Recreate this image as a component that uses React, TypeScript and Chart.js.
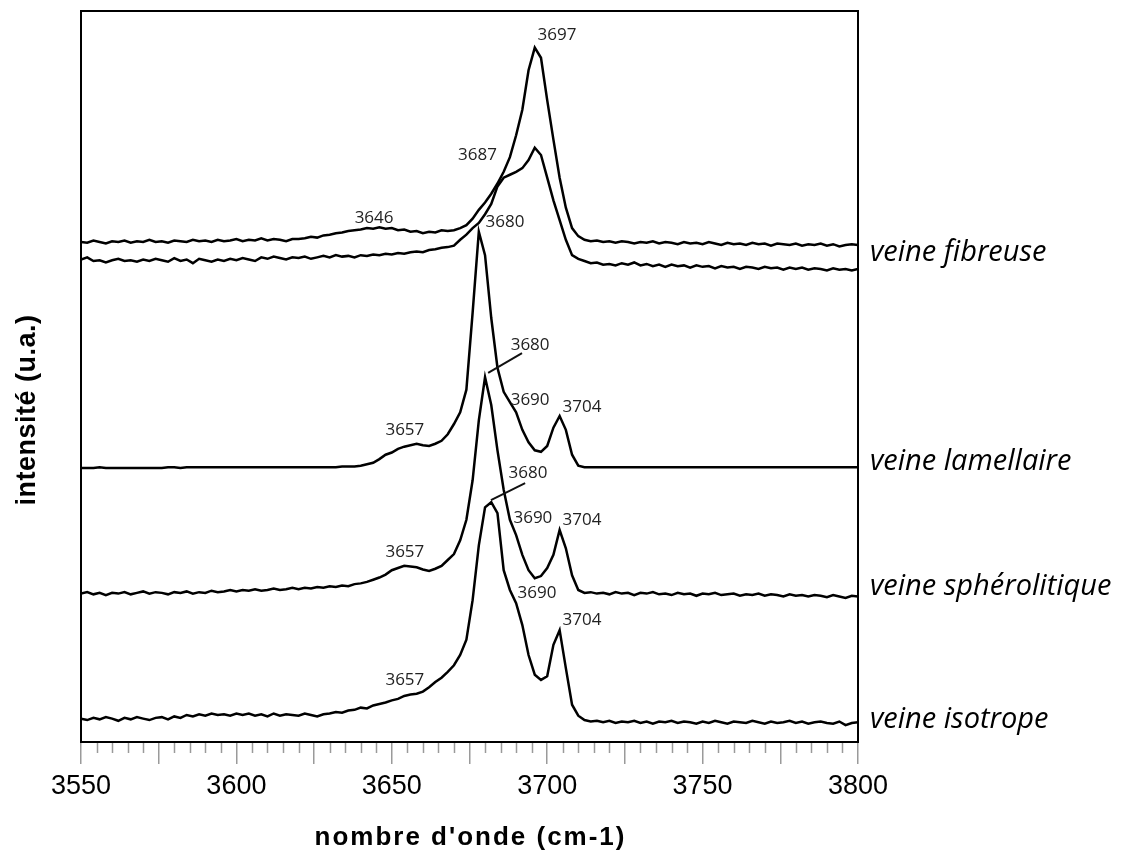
import React, { useEffect, useRef } from "react";
import { Chart, registerables } from "chart.js";

Chart.register(...registerables);

// wavenumber grid (cm-1), 2 cm-1 sampling
const X_START = 3550;
const X_STEP = 2;
const X_COUNT = 126;
const WAVENUMBERS: number[] = Array.from({ length: X_COUNT }, (_, i) => X_START + X_STEP * i);

// intensities (a.u.)
const fibreuseHaut = [
  68.4, 68.3, 68.6, 68.4, 68.2, 68.5, 68.4, 68.6, 68.3, 68.5,
  68.4, 68.7, 68.4, 68.5, 68.3, 68.6, 68.5, 68.4, 68.7, 68.5,
  68.6, 68.4, 68.7, 68.5, 68.6, 68.8, 68.5, 68.7, 68.6, 68.9,
  68.6, 68.8, 68.7, 68.5, 68.8,
  68.8, 68.9, 69.1, 69.0, 69.3, 69.4, 69.6, 69.7, 69.9, 70.0,
  70.1, 70.3, 70.2, 70.4, 70.2, 70.3, 70.0, 70.1, 69.8, 69.9,
  69.6, 69.8, 69.7, 70.0, 69.9,
  70.0, 70.3, 70.7, 71.6, 72.8, 73.8, 75.0, 76.4, 78.0, 80.0,
  83.0, 86.5, 91.9, 95.0, 93.6, 87.8, 82.4, 77.2, 73.1, 70.3,
  69.2, 68.7,
  68.5, 68.6, 68.4, 68.5, 68.3, 68.5, 68.4, 68.2, 68.4, 68.3,
  68.5, 68.2, 68.4, 68.3, 68.1, 68.4, 68.2, 68.3, 68.1, 68.4,
  68.2, 68.0, 68.3, 68.1, 68.2, 68.0, 68.3, 68.1, 68.2, 67.9,
  68.2, 68.1, 68.0, 68.2, 67.9, 68.1, 68.0, 68.2, 67.9, 68.1,
  67.8, 68.0, 68.1, 68.0,
];

const fibreuseBas = [
  66.0, 66.3, 65.8, 65.9, 65.6, 65.9, 66.1, 65.8, 65.9, 65.7,
  66.0, 65.8, 66.1, 65.9, 65.7, 66.2, 65.8, 66.0, 65.5, 66.1,
  65.9, 65.7, 66.0, 65.8, 66.1, 65.9, 66.2, 66.0, 65.8, 66.3,
  66.1, 66.4, 66.2, 66.0, 66.3,
  66.2, 66.4, 66.1, 66.3, 66.5, 66.3, 66.6, 66.4, 66.5, 66.3,
  66.6, 66.5, 66.7, 66.6, 66.8, 66.7, 66.9, 66.8, 67.0, 67.1,
  67.0, 67.3, 67.4, 67.6, 67.7,
  67.9, 68.7, 69.4, 70.3, 71.0, 72.2, 73.6, 76.0, 77.2, 77.6,
  78.0, 78.5, 79.6, 81.3, 80.3, 77.2, 74.1, 71.4, 68.7, 66.6,
  66.1, 65.8,
  65.5, 65.6, 65.3, 65.4, 65.2, 65.5, 65.3, 65.6, 65.2, 65.4,
  65.1, 65.3, 65.0, 65.3, 65.1, 65.2, 64.9, 65.2, 65.0, 65.1,
  64.8, 65.1, 64.9, 65.0, 64.7, 65.0, 64.9, 64.7, 65.0, 64.8,
  64.9, 64.6, 64.9, 64.7, 64.9, 64.6, 64.8, 64.7, 64.5, 64.8,
  64.6, 64.7, 64.5, 64.7,
];

const lamellaire = [
  37.5, 37.5, 37.5, 37.6, 37.5, 37.5, 37.5, 37.5, 37.5, 37.5,
  37.5, 37.5, 37.5, 37.5, 37.6, 37.6, 37.5, 37.6, 37.6, 37.6,
  37.6, 37.6, 37.6, 37.6, 37.6, 37.6, 37.6, 37.6, 37.6, 37.6,
  37.6, 37.6, 37.6, 37.6, 37.6,
  37.6, 37.6, 37.6, 37.6, 37.6, 37.6, 37.6, 37.7, 37.7, 37.7,
  37.8, 38.0, 38.2, 38.7, 39.3, 39.6, 40.1, 40.4, 40.6, 40.8,
  40.6, 40.5, 40.8, 41.2, 42.1,
  43.5, 45.1, 48.2, 58.7, 69.8, 66.6, 58.0, 51.2, 47.9, 46.5,
  45.1, 42.7, 41.0, 39.9, 39.7, 40.5, 43.0, 44.6, 42.7, 39.3,
  37.8, 37.6,
  37.6, 37.6, 37.6, 37.6, 37.6, 37.6, 37.6, 37.6, 37.6, 37.6,
  37.6, 37.6, 37.6, 37.6, 37.6, 37.6, 37.6, 37.6, 37.6, 37.6,
  37.6, 37.6, 37.6, 37.6, 37.6, 37.6, 37.6, 37.6, 37.6, 37.6,
  37.6, 37.6, 37.6, 37.6, 37.6, 37.6, 37.6, 37.6, 37.6, 37.6,
  37.6, 37.6, 37.6, 37.6,
];

const spherolitique = [
  20.3, 20.5, 20.2, 20.4, 20.1, 20.4, 20.3, 20.5, 20.2, 20.4,
  20.6, 20.3, 20.5, 20.4, 20.2, 20.5, 20.4, 20.6, 20.3, 20.5,
  20.4, 20.7, 20.5, 20.6, 20.8, 20.6, 20.8, 20.7, 20.9, 20.7,
  20.8, 21.0, 20.8, 20.9, 21.1,
  20.9, 21.1, 21.0, 21.2, 21.1, 21.3, 21.2, 21.4, 21.3, 21.6,
  21.7, 21.9, 22.2, 22.5, 22.9, 23.5, 23.8, 24.1, 24.0, 23.9,
  23.6, 23.4, 23.7, 24.1, 24.9,
  25.7, 27.6, 30.4, 35.8, 44.0, 49.9, 46.1, 39.9, 34.5, 30.4,
  28.3, 25.6, 23.5, 22.4, 22.7, 23.8, 25.6, 29.0, 26.5, 22.8,
  20.8, 20.4,
  20.5, 20.3, 20.4, 20.2, 20.5, 20.3, 20.4, 20.1, 20.4, 20.3,
  20.5, 20.2, 20.3, 20.1, 20.4, 20.2, 20.3, 20.0, 20.3, 20.2,
  20.4, 20.1, 20.2, 20.3, 20.0, 20.2, 20.1, 20.3, 20.0, 20.2,
  20.1, 19.9, 20.2, 20.0, 20.1, 19.9, 20.1, 20.0, 19.8, 20.1,
  19.9, 19.7, 20.0, 19.9,
];

const isotrope = [
  3.2, 3.0, 3.3, 3.1, 3.4, 3.2, 2.9, 3.3, 3.1, 3.4,
  3.2, 3.0, 3.3, 3.4, 3.1, 3.5, 3.3, 3.7, 3.5, 3.8,
  3.6, 3.9, 3.7, 3.8, 3.6, 3.9, 3.7, 3.9, 3.6, 3.8,
  3.5, 3.9, 3.6, 3.8, 3.7,
  3.6, 3.9, 3.7, 3.5, 3.8, 3.9, 4.1, 4.0, 4.3, 4.4,
  4.7, 4.6, 5.0, 5.2, 5.4, 5.7, 5.9, 6.3, 6.5, 6.6,
  6.9, 7.5, 8.2, 8.8, 9.6,
  10.5, 11.9, 14.0, 19.4, 26.9, 32.1, 32.8, 31.3, 23.5, 20.8,
  19.0, 16.0, 11.9, 9.2, 8.5, 9.0, 13.3, 15.3, 10.1, 5.1,
  3.6, 3.0,
  2.8, 2.9, 2.7, 2.9, 2.6, 2.8, 2.7, 2.9, 2.6, 2.8,
  2.5, 2.8, 2.7, 2.9, 2.6, 2.8, 2.7, 2.5, 2.8, 2.6,
  2.9, 2.7, 2.5, 2.8, 2.7, 2.6, 2.9, 2.7, 2.5, 2.8,
  2.6, 2.7, 2.9, 2.6, 2.8, 2.5, 2.7, 2.8, 2.6, 2.5,
  2.8, 2.3, 2.6, 2.7,
];

const SERIES = [fibreuseHaut, fibreuseBas, lamellaire, spherolitique, isotrope];

const SERIES_NAMES = ["veine fibreuse", "veine lamellaire", "veine sphérolitique", "veine isotrope"];
const SERIES_NAME_Y = [66.9, 38.3, 21.2, 3.0];

const X_MIN = 3550;
const X_MAX = 3800;
const X_MAJOR_STEP = 25;
const X_LABEL_STEP = 50;
const X_MINOR_STEP = 5;

const X_TITLE = "nombre d'onde (cm-1)";
const Y_TITLE = "intensité (u.a.)";

const PEAK_LABELS = [
  { text: "3697", x: 3696.9, y: 96.7, align: "left" },
  { text: "3687", x: 3683.8, y: 80.3, align: "right" },
  { text: "3646", x: 3644.3, y: 71.7, align: "center" },
  { text: "3680", x: 3686.4, y: 71.1, align: "center" },
  { text: "3680", x: 3694.5, y: 54.3, align: "center" },
  { text: "3690", x: 3694.5, y: 46.8, align: "center" },
  { text: "3704", x: 3711.2, y: 45.8, align: "center" },
  { text: "3657", x: 3654.2, y: 42.7, align: "center" },
  { text: "3680", x: 3693.8, y: 36.8, align: "center" },
  { text: "3690", x: 3695.4, y: 30.6, align: "center" },
  { text: "3704", x: 3711.2, y: 30.4, align: "center" },
  { text: "3657", x: 3654.2, y: 26.0, align: "center" },
  { text: "3690", x: 3696.7, y: 20.4, align: "center" },
  { text: "3704", x: 3711.2, y: 16.7, align: "center" },
  { text: "3657", x: 3654.2, y: 8.5, align: "center" },
];

const LEADERS = [
  { x1: 3691.9, y1: 53.2, x2: 3681.0, y2: 50.5 },
  { x1: 3692.9, y1: 35.4, x2: 3681.9, y2: 33.1 },
];

const decorPlugin = {
  id: "decor",
  afterDraw(chart: any) {
    const { ctx, chartArea: a, scales } = chart;
    const xs = scales.x;
    const ys = scales.y;
    ctx.save();
    // frame
    ctx.strokeStyle = "#000";
    ctx.lineWidth = 2;
    ctx.strokeRect(a.left, a.top, a.right - a.left, a.bottom - a.top);
    // minor ticks
    ctx.strokeStyle = "#9a9a9a";
    ctx.lineWidth = 1.5;
    for (let v = X_MIN; v <= X_MAX; v += X_MINOR_STEP) {
      if (v % X_MAJOR_STEP === 0) continue;
      const px = Math.round(xs.getPixelForValue(v)) + 0.5;
      ctx.beginPath();
      ctx.moveTo(px, a.bottom + 1);
      ctx.lineTo(px, a.bottom + 11);
      ctx.stroke();
    }
    // peak labels
    ctx.fillStyle = "#222";
    ctx.font = "17px 'Open Sans'";
    ctx.textBaseline = "middle";
    for (const p of PEAK_LABELS) {
      ctx.textAlign = p.align as CanvasTextAlign;
      ctx.fillText(p.text, xs.getPixelForValue(p.x), ys.getPixelForValue(p.y));
    }
    // leaders
    ctx.strokeStyle = "#111";
    ctx.lineWidth = 2;
    for (const l of LEADERS) {
      ctx.beginPath();
      ctx.moveTo(xs.getPixelForValue(l.x1), ys.getPixelForValue(l.y1));
      ctx.lineTo(xs.getPixelForValue(l.x2), ys.getPixelForValue(l.y2));
      ctx.stroke();
    }
    // series names
    ctx.fillStyle = "#000";
    ctx.font = "italic 29px 'Open Sans'";
    ctx.textAlign = "left";
    SERIES_NAMES.forEach((n, i) => {
      ctx.fillText(n, a.right + 12, ys.getPixelForValue(SERIES_NAME_Y[i]));
    });
    // x title
    ctx.font = "bold 26px 'Liberation Sans'";
    ctx.textAlign = "center";
    (ctx as any).letterSpacing = "2px";
    ctx.fillText(X_TITLE, (a.left + a.right) / 2 + 1, 838);
    // y title
    (ctx as any).letterSpacing = "0.5px";
    ctx.translate(28, 410);
    ctx.rotate(-Math.PI / 2);
    ctx.font = "bold 27px 'Liberation Sans'";
    ctx.fillText(Y_TITLE, 0, 0);
    ctx.restore();
  },
};

export default function App() {
  const ref = useRef<HTMLCanvasElement | null>(null);
  useEffect(() => {
    if (!ref.current) return;
    const chart = new Chart(ref.current, {
      type: "line",
      data: {
        datasets: SERIES.map((s) => ({
          data: WAVENUMBERS.map((w, i) => ({ x: w, y: s[i] })),
          borderColor: "#000",
          borderWidth: 2.5,
          pointRadius: 0,
          tension: 0,
          fill: false,
        })),
      },
      options: {
        responsive: false,
        animation: false,
        devicePixelRatio: 1,
        layout: { padding: { left: 81, top: 11, right: 276, bottom: 0 } },
        plugins: { legend: { display: false }, tooltip: { enabled: false } },
        scales: {
          x: {
            type: "linear",
            min: X_MIN,
            max: X_MAX,
            afterFit: (s: any) => {
              s.height = 115;
            },
            ticks: {
              stepSize: X_MAJOR_STEP,
              autoSkip: false,
              maxRotation: 0,
              padding: 6,
              color: "#000",
              font: { family: "'Liberation Sans'", size: 27 },
              callback: (v: any) => (Number(v) % X_LABEL_STEP === 0 ? String(v) : ""),
            },
            grid: {
              drawOnChartArea: false,
              drawTicks: true,
              tickLength: 22,
              color: "#9a9a9a",
              lineWidth: 1.5,
            },
            border: { display: false },
          },
          y: { display: false, min: 0, max: 100 },
        },
      },
      plugins: [decorPlugin],
    });
    return () => chart.destroy();
  }, []);
  return (
    <div style={{ position: "absolute", left: 0, top: 0, width: 1134, height: 857, background: "#fff" }}>
      <canvas ref={ref} width={1134} height={857} style={{ display: "block" }} />
    </div>
  );
}
